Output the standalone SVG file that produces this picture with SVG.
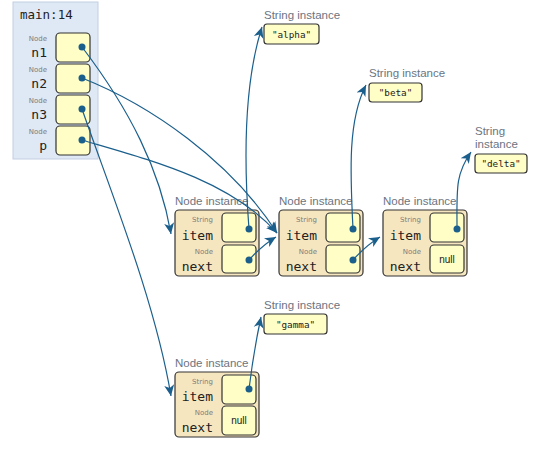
<svg xmlns="http://www.w3.org/2000/svg" width="547" height="457" viewBox="0 0 547 457">
<defs>
<style>
.frame{fill:#dfe8f5;stroke:#c3cfe2;stroke-width:1}
.fld{fill:#fefec6;stroke:#333;stroke-width:1.2}
.obj{fill:#f6e6c0;stroke:#333;stroke-width:1.2}
.str{fill:#fefec6;stroke:#333;stroke-width:1.2}
.title{font-family:"DejaVu Sans Mono",monospace;font-size:12.5px;fill:#222}
.vname{font-family:"DejaVu Sans Mono",monospace;font-size:13px;fill:#222;text-anchor:end}
.typ{font-family:"DejaVu Sans",sans-serif;font-size:7px;fill:#7d7d7d;text-anchor:end}
.lbl{font-family:"Liberation Sans",Arial,sans-serif;font-size:11.5px;fill:#6b7482}
.val{font-family:"DejaVu Sans Mono",monospace;font-size:9.3px;fill:#222;text-anchor:middle}
.nul{font-family:"Liberation Sans",Arial,sans-serif;font-size:10px;fill:#222;text-anchor:middle}
.arr{fill:none;stroke:#1b5f8c;stroke-width:1.2;marker-end:url(#ah)}
.dot{fill:#1b5f8c}
</style>
<marker id="ah" markerUnits="userSpaceOnUse" markerWidth="12" markerHeight="12" viewBox="0 0 12 12" refX="11" refY="6" orient="auto">
<path d="M0,1 L11,6 L0,11 L3,6 z" fill="#1b5f8c"/>
</marker>
</defs>

<g id="frame-main">
<rect class="frame" x="13" y="2" width="85" height="157"/>
<text class="title" x="20" y="19">main:14</text>
</g>
<g id="var-n1">
<text class="typ" x="47" y="41">Node</text>
<text class="vname" x="47" y="57">n1</text>
<rect class="fld" x="56" y="33" width="34" height="29" rx="4"/>
</g>
<g id="var-n2">
<text class="typ" x="47" y="72">Node</text>
<text class="vname" x="47" y="88">n2</text>
<rect class="fld" x="56" y="64" width="34" height="29" rx="4"/>
</g>
<g id="var-n3">
<text class="typ" x="47" y="103">Node</text>
<text class="vname" x="47" y="119">n3</text>
<rect class="fld" x="56" y="95" width="34" height="29" rx="4"/>
</g>
<g id="var-p">
<text class="typ" x="47" y="134">Node</text>
<text class="vname" x="47" y="150">p</text>
<rect class="fld" x="56" y="126" width="34" height="29" rx="4"/>
</g>

<g id="node1">
<text class="lbl" x="175" y="205">Node instance</text>
<rect class="obj" x="175" y="210" width="84" height="66" rx="4"/>
<text class="typ" x="213" y="222">String</text>
<text class="vname" x="213" y="240">item</text>
<text class="typ" x="213" y="254">Node</text>
<text class="vname" x="213" y="271">next</text>
<rect class="fld" x="222" y="213" width="34" height="29" rx="4"/>
<rect class="fld" x="222" y="245" width="34" height="28" rx="4"/>
</g>
<g id="node2">
<text class="lbl" x="279" y="205">Node instance</text>
<rect class="obj" x="279" y="210" width="84" height="66" rx="4"/>
<text class="typ" x="317" y="222">String</text>
<text class="vname" x="317" y="240">item</text>
<text class="typ" x="317" y="254">Node</text>
<text class="vname" x="317" y="271">next</text>
<rect class="fld" x="326" y="213" width="34" height="29" rx="4"/>
<rect class="fld" x="326" y="245" width="34" height="28" rx="4"/>
</g>
<g id="node3">
<text class="lbl" x="383" y="205">Node instance</text>
<rect class="obj" x="383" y="210" width="84" height="66" rx="4"/>
<text class="typ" x="421" y="222">String</text>
<text class="vname" x="421" y="240">item</text>
<text class="typ" x="421" y="254">Node</text>
<text class="vname" x="421" y="271">next</text>
<rect class="fld" x="430" y="213" width="34" height="29" rx="4"/>
<rect class="fld" x="430" y="245" width="34" height="28" rx="4"/>
<text class="nul" x="447" y="263">null</text>
</g>
<g id="node4">
<text class="lbl" x="175" y="367">Node instance</text>
<rect class="obj" x="175" y="372" width="84" height="65" rx="4"/>
<text class="typ" x="213" y="384">String</text>
<text class="vname" x="213" y="401">item</text>
<text class="typ" x="213" y="415">Node</text>
<text class="vname" x="213" y="432">next</text>
<rect class="fld" x="222" y="375" width="34" height="29" rx="4"/>
<rect class="fld" x="222" y="406" width="34" height="29" rx="4"/>
<text class="nul" x="239" y="424">null</text>
</g>

<g id="str-alpha">
<text class="lbl" x="264" y="19">String instance</text>
<rect class="str" x="264" y="24" width="55" height="20" rx="3"/>
<text class="val" x="291.5" y="37.5">"alpha"</text>
</g>
<g id="str-beta">
<text class="lbl" x="369" y="77">String instance</text>
<rect class="str" x="369" y="83" width="53" height="19" rx="3"/>
<text class="val" x="395.5" y="96">"beta"</text>
</g>
<g id="str-delta">
<text class="lbl" x="475" y="135">String</text>
<text class="lbl" x="475" y="148">instance</text>
<rect class="str" x="475" y="154" width="52" height="19" rx="3"/>
<text class="val" x="501" y="167">"delta"</text>
</g>
<g id="str-gamma">
<text class="lbl" x="264" y="309">String instance</text>
<rect class="str" x="264" y="314" width="63" height="20" rx="3"/>
<text class="val" x="295.5" y="327.5">"gamma"</text>
</g>

<g id="connectors">
<path class="arr" d="M82,47 C130,110 160,170 171,234"/>
<path class="arr" d="M82,78 C150,105 230,160 277,233"/>
<path class="arr" d="M82,109 C110,190 155,300 171,396"/>
<path class="arr" d="M82,140 C150,160 230,180 277,233"/>
<path class="arr" d="M249,229 C243,150 245,80 262,27"/>
<path class="arr" d="M353,229 C350,170 348,120 366,85"/>
<path class="arr" d="M457,229 C457,190 455,175 471,152"/>
<path class="arr" d="M249,389 C252,365 256,340 261,317"/>
<path class="arr" d="M249,260 C258,250 266,243 276,237"/>
<path class="arr" d="M353,260 C362,250 370,243 380,237"/>
<circle class="dot" cx="82" cy="47" r="3.5"/>
<circle class="dot" cx="82" cy="78" r="3.5"/>
<circle class="dot" cx="82" cy="109" r="3.5"/>
<circle class="dot" cx="82" cy="140" r="3.5"/>
<circle class="dot" cx="249" cy="229" r="3.5"/>
<circle class="dot" cx="353" cy="229" r="3.5"/>
<circle class="dot" cx="457" cy="229" r="3.5"/>
<circle class="dot" cx="249" cy="389" r="3.5"/>
<circle class="dot" cx="249" cy="260" r="3.5"/>
<circle class="dot" cx="353" cy="260" r="3.5"/>
</g>
</svg>
